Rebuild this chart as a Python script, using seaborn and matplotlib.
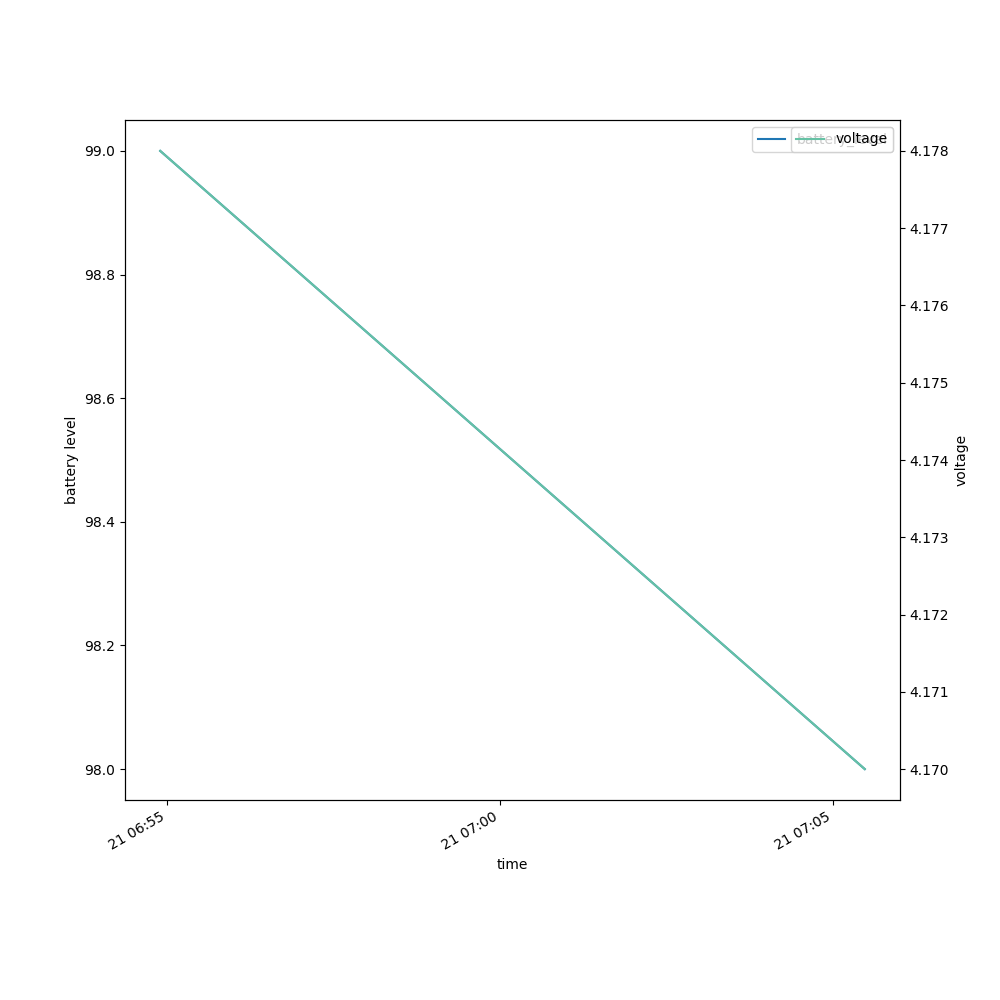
import pandas as pd
import seaborn as sns
import matplotlib
matplotlib.use('Agg')
import matplotlib.pyplot as plt

times = ['2023-05-21 06:54:54', '2023-05-21 07:05:29']
battery_level = [99, 98]
voltage = [4.178, 4.170]


def plot_battery():
    df = pd.DataFrame({'time': pd.to_datetime(times),
                       'battery_level': battery_level,
                       'voltage': voltage})
    fig, ax = plt.subplots(figsize=(10, 10))
    sns.lineplot(data=df, x='time', y='battery_level', ax=ax,
                 color='tab:blue', label='battery_level')
    ax.set_ylabel('battery level')
    ax2 = ax.twinx()
    sns.lineplot(data=df, x='time', y='voltage', ax=ax2,
                 color='#66c2a5', label='voltage')
    ax.legend(loc='upper right')
    ax2.legend(loc='upper right')
    fig.autofmt_xdate()
    plt.savefig('out.png', dpi=100)


plot_battery()
